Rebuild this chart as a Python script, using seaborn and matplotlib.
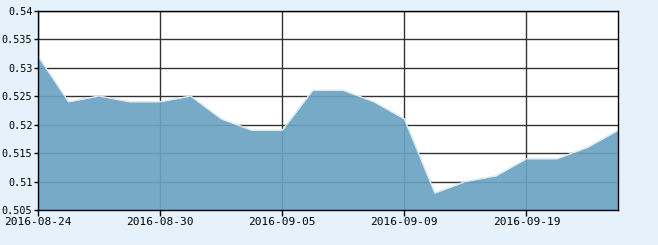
import matplotlib
matplotlib.use("Agg")
import matplotlib.pyplot as plt
import seaborn as sns
import pandas as pd
import numpy as np

dates = ["2016-08-24", "2016-08-25", "2016-08-26", "2016-08-29", "2016-08-30",
         "2016-08-31", "2016-09-01", "2016-09-02", "2016-09-05", "2016-09-06",
         "2016-09-07", "2016-09-08", "2016-09-09", "2016-09-12", "2016-09-13",
         "2016-09-14", "2016-09-19", "2016-09-20", "2016-09-21", "2016-09-22"]
values = [0.532, 0.524, 0.525, 0.524, 0.524, 0.525, 0.521, 0.519, 0.519, 0.526,
          0.526, 0.524, 0.521, 0.508, 0.510, 0.511, 0.514, 0.514, 0.516, 0.519]
tick_labels = ["2016-08-24", "2016-08-30", "2016-09-05", "2016-09-09", "2016-09-19"]
y_ticks = [0.505, 0.51, 0.515, 0.52, 0.525, 0.53, 0.535, 0.54]
y_labels = ["0.505", "0.51", "0.515", "0.52", "0.525", "0.53", "0.535", "0.54"]

df = pd.DataFrame({"date": dates, "value": values})
df["idx"] = range(len(df))

sns.set_theme(style="white")
plt.rcParams["font.family"] = ["DejaVu Sans Mono"]

bg = "#e6f2fb"
fig = plt.figure(figsize=(6.58, 2.45), dpi=100, facecolor=bg)
ax = fig.add_axes([38/658, 1-210/245, 580/658, 199.5/245])
ax.set_facecolor("white")

ax.set_xlim(0, len(df) - 1)
ax.set_ylim(0.505, 0.54)

tick_pos = [dates.index(t) for t in tick_labels]
ax.set_xticks(tick_pos)
ax.set_xticklabels(tick_labels)
ax.set_yticks(y_ticks)
ax.set_yticklabels(y_labels)

ax.grid(True, color="#333333", linewidth=1.0)
ax.set_axisbelow(True)

ax.fill_between(df["idx"], df["value"], 0.505, color="#6ba3c2", alpha=0.92,
                linewidth=0, zorder=2)
sns.lineplot(data=df, x="idx", y="value", ax=ax, color="#d8ecf8",
             linewidth=1.0, zorder=3)

ax.set_xlabel("")
ax.set_ylabel("")
for s in ax.spines.values():
    s.set_color("black")
    s.set_linewidth(1.0)
    s.set_zorder(5)
ax.tick_params(axis="x", direction="out", length=4, width=1, color="black",
               labelsize=8, labelcolor="black", pad=1, bottom=True)
ax.tick_params(axis="y", direction="out", length=3, width=1, color="black",
               labelsize=7.3, labelcolor="black", pad=1, left=True)

fig.savefig("out.png", dpi=100, facecolor=bg)
